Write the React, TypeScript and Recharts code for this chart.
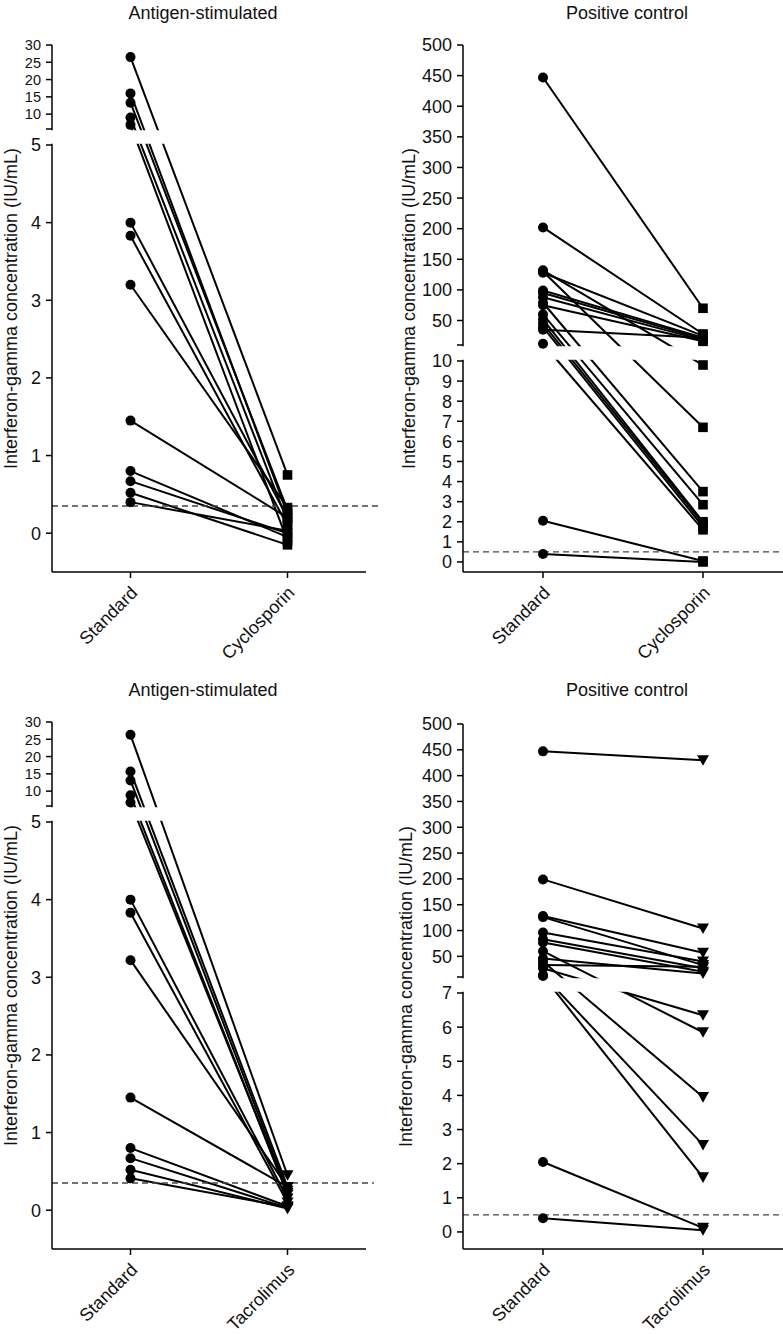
import { ComposedChart, Line, Scatter, XAxis, YAxis, ReferenceLine, ReferenceArea } from 'recharts';

const FONT = '"Liberation Sans", Arial, Helvetica, sans-serif';
const INK = '#111';
const FS = 18;

// groups on the x axis
const cyclosporinGroups = ['Standard', 'Cyclosporin'];
const tacrolimusGroups = ['Standard', 'Tacrolimus'];

// antigen-stimulated, standard vs cyclosporin (IU/mL), paired by subject
const agCsaStandard = [26.5, 16, 13.3, 9, 6.9, 4.0, 3.83, 3.2, 1.45, 0.8, 0.67, 0.52, 0.4];
const agCsaTreated = [0.75, 0.25, 0.3, 0.15, -0.1, 0.2, 0.1, 0.33, 0.2, -0.05, 0.0, -0.15, 0.03];

// positive control, standard vs cyclosporin
const pcCsaStandard = [447, 202, 132, 130, 128, 99, 95, 88, 79, 75, 60, 52, 45, 39, 35, 12, 2.05, 0.4];
const pcCsaTreated = [70, 28, 9.8, 6.7, 25, 22, 20, 18, 3.5, 16, 2.85, 2.0, 1.9, 1.75, 22, 1.6, 0.05, 0];

// antigen-stimulated, standard vs tacrolimus
const agTacStandard = [26.3, 15.7, 13.1, 8.8, 6.7, 4.0, 3.83, 3.22, 1.45, 0.8, 0.67, 0.52, 0.41];
const agTacTreated = [0.45, 0.3, 0.25, 0.2, 0.22, 0.15, 0.1, 0.3, 0.3, 0.05, 0.03, 0.02, 0.04];

// positive control, standard vs tacrolimus
const pcTacStandard = [447, 199, 128, 126, 96, 83, 77, 60, 46, 40, 33, 27, 14, 12, 2.05, 0.4];
const pcTacTreated = [430, 104, 57, 33, 40, 27, 20, 5.85, 17, 3.95, 30, 6.35, 2.55, 1.6, 0.12, 0.05];

// assay cut-offs
const agCutoff = 0.35;
const pcCutoff = 0.5;

// y tick values
const agLowerTicks = [0, 1, 2, 3, 4, 5];
const agUpperTicks = [10, 15, 20, 25, 30];
const pcCsaLowerTicks = [0, 1, 2, 3, 4, 5, 6, 7, 8, 9, 10];
const pcTacLowerTicks = [0, 1, 2, 3, 4, 5, 6, 7];
const pcUpperTicks = [50, 100, 150, 200, 250, 300, 350, 400, 450, 500];

const yLabel = 'Interferon-gamma concentration (IU/mL)';

type Break = {
  lower: [number, number];
  upper: [number, number];
  lowerPx: number;
  gapPx: number;
  upperPx: number;
};

type Marker = 'square' | 'triangle';

type PanelProps = {
  title: string;
  groups: string[];
  standard: number[];
  treated: number[];
  marker: Marker;
  brk: Break;
  lowerTicks: number[];
  upperTicks: number[];
  upperFont: number;
  cutoff: number;
  left: number;
  top: number;
  width: number;
  height: number;
  marginTop: number;
  marginRight: number;
  yAxisWidth: number;
  labelOffset: number;
  titleX: number;
  cutoffEnd: number;
};

function Panel(p: PanelProps) {
  const { brk } = p;
  const total = brk.lowerPx + brk.gapPx + brk.upperPx;

  // piecewise mapping of a value onto the broken axis
  const toAxis = (v: number) => {
    if (v <= brk.lower[1]) {
      return ((v - brk.lower[0]) / (brk.lower[1] - brk.lower[0])) * brk.lowerPx;
    }
    return brk.lowerPx + brk.gapPx + ((v - brk.upper[0]) / (brk.upper[1] - brk.upper[0])) * brk.upperPx;
  };

  const rows = [0, 1].map((x) => {
    const row: Record<string, number> = { x };
    p.standard.forEach((v, i) => {
      row['s' + i] = toAxis(x === 0 ? v : p.treated[i]);
    });
    return row;
  });
  const standardPts = p.standard.map((v) => ({ x: 0, y: toAxis(v) }));
  const treatedPts = p.treated.map((v) => ({ x: 1, y: toAxis(v) }));

  const tickLabels = new Map<number, string>();
  p.lowerTicks.forEach((t) => tickLabels.set(toAxis(t), String(t)));
  tickLabels.set(brk.lowerPx + brk.gapPx, '');
  p.upperTicks.forEach((t) => tickLabels.set(toAxis(t), String(t)));
  const yTicks = [...tickLabels.keys()].sort((a, b) => a - b);

  const cut = toAxis(p.cutoff);
  const axisStyle = { stroke: '#000', strokeWidth: 1.5 };

  const XTick = (props: any) => {
    const { x, y, payload } = props;
    const tx = x + 8;
    const ty = y + 14;
    return (
      <text x={tx} y={ty} transform={`rotate(-45, ${tx}, ${ty})`} textAnchor="end" fontSize={FS} fill={INK}>
        {p.groups[payload.value]}
      </text>
    );
  };

  const YTick = (props: any) => {
    const { x, y, payload } = props;
    const label = tickLabels.get(payload.value) ?? '';
    if (!label) return <g />;
    const size = payload.value > brk.lowerPx ? p.upperFont : FS;
    return (
      <text x={x} y={y} dy="0.36em" textAnchor="end" fontSize={size} fill={INK}>
        {label}
      </text>
    );
  };

  const circle = (s: any) => <circle cx={s.cx} cy={s.cy} r={5} fill="#000" />;
  const square = (s: any) => <rect x={s.cx - 4.8} y={s.cy - 4.8} width={9.6} height={9.6} fill="#000" />;
  const triangle = (s: any) => (
    <path d={`M${s.cx - 6},${s.cy - 5} L${s.cx + 6},${s.cy - 5} L${s.cx},${s.cy + 5.6} Z`} fill="#000" />
  );

  return (
    <div style={{ position: 'absolute', left: p.left, top: p.top, width: p.width, height: p.height }}>
      <div
        style={{
          position: 'absolute',
          left: p.titleX - 150,
          top: 3,
          width: 300,
          textAlign: 'center',
          fontSize: FS,
          lineHeight: '20px',
          color: INK,
        }}
      >
        {p.title}
      </div>
      <ComposedChart
        width={p.width}
        height={p.height}
        data={rows}
        margin={{ top: p.marginTop, right: p.marginRight, bottom: 0, left: 0 }}
      >
        <XAxis
          type="number"
          dataKey="x"
          domain={[-0.5, 1.5]}
          ticks={[0, 1]}
          interval={0}
          allowDataOverflow
          height={p.height - p.marginTop - total}
          axisLine={axisStyle}
          tickLine={axisStyle}
          tickSize={6}
          tick={<XTick />}
        />
        <YAxis
          type="number"
          domain={[0, total]}
          allowDataOverflow
          ticks={yTicks}
          interval={0}
          width={p.yAxisWidth}
          axisLine={axisStyle}
          tickLine={axisStyle}
          tickSize={6}
          tickMargin={5}
          tick={<YTick />}
          label={{
            value: yLabel,
            angle: -90,
            position: 'insideLeft',
            offset: p.labelOffset,
            style: { textAnchor: 'middle', fill: INK, fontSize: FS },
          }}
        />
        {p.standard.map((_, i) => (
          <Line
            key={i}
            dataKey={'s' + i}
            type="linear"
            stroke="#000"
            strokeWidth={2}
            dot={false}
            activeDot={false}
            isAnimationActive={false}
          />
        ))}
        <ReferenceLine
          segment={[
            { x: -0.5, y: cut },
            { x: p.cutoffEnd, y: cut },
          ]}
          ifOverflow="visible"
          stroke="#444"
          strokeWidth={1.3}
          strokeDasharray="6 4"
        />
        <ReferenceArea
          x1={-0.62}
          x2={1.75}
          y1={brk.lowerPx + 1.2}
          y2={brk.lowerPx + brk.gapPx - 1.2}
          ifOverflow="visible"
          fill="#fff"
          fillOpacity={1}
          stroke="none"
          zIndex={550}
        />
        <Scatter data={standardPts} dataKey="y" shape={circle} isAnimationActive={false} />
        <Scatter
          data={treatedPts}
          dataKey="y"
          shape={p.marker === 'square' ? square : triangle}
          isAnimationActive={false}
        />
      </ComposedChart>
    </div>
  );
}

const agBreak: Break = { lower: [-0.5, 5], upper: [5.7, 30], lowerPx: 427, gapPx: 16, upperPx: 84 };
const pcCsaBreak: Break = { lower: [-0.5, 10], upper: [10, 500], lowerPx: 211, gapPx: 16, upperPx: 300 };
const pcTacBreak: Break = { lower: [-0.5, 7], upper: [10, 500], lowerPx: 256, gapPx: 16, upperPx: 253 };

export default function App() {
  return (
    <div
      style={{
        position: 'absolute',
        left: 0,
        top: 0,
        width: 783,
        height: 1334,
        background: '#fff',
        fontFamily: FONT,
        overflow: 'hidden',
      }}
    >
      <Panel
        title="Antigen-stimulated"
        groups={cyclosporinGroups}
        standard={agCsaStandard}
        treated={agCsaTreated}
        marker="square"
        brk={agBreak}
        lowerTicks={agLowerTicks}
        upperTicks={agUpperTicks}
        upperFont={14.5}
        cutoff={agCutoff}
        left={0}
        top={0}
        width={392}
        height={677}
        marginTop={45}
        marginRight={26}
        yAxisWidth={52}
        labelOffset={11}
        titleX={203}
        cutoffEnd={1.58}
      />
      <Panel
        title="Positive control"
        groups={cyclosporinGroups}
        standard={pcCsaStandard}
        treated={pcCsaTreated}
        marker="square"
        brk={pcCsaBreak}
        lowerTicks={pcCsaLowerTicks}
        upperTicks={pcUpperTicks}
        upperFont={FS}
        cutoff={pcCutoff}
        left={391}
        top={0}
        width={392}
        height={677}
        marginTop={45}
        marginRight={0}
        yAxisWidth={72}
        labelOffset={18}
        titleX={236}
        cutoffEnd={1.6}
      />
      <Panel
        title="Antigen-stimulated"
        groups={tacrolimusGroups}
        standard={agTacStandard}
        treated={agTacTreated}
        marker="triangle"
        brk={agBreak}
        lowerTicks={agLowerTicks}
        upperTicks={agUpperTicks}
        upperFont={14.5}
        cutoff={agCutoff}
        left={0}
        top={677}
        width={392}
        height={657}
        marginTop={45}
        marginRight={26}
        yAxisWidth={52}
        labelOffset={11}
        titleX={203}
        cutoffEnd={1.55}
      />
      <Panel
        title="Positive control"
        groups={tacrolimusGroups}
        standard={pcTacStandard}
        treated={pcTacTreated}
        marker="triangle"
        brk={pcTacBreak}
        lowerTicks={pcTacLowerTicks}
        upperTicks={pcUpperTicks}
        upperFont={FS}
        cutoff={pcCutoff}
        left={391}
        top={677}
        width={392}
        height={657}
        marginTop={47}
        marginRight={0}
        yAxisWidth={72}
        labelOffset={15}
        titleX={236}
        cutoffEnd={1.6}
      />
    </div>
  );
}
